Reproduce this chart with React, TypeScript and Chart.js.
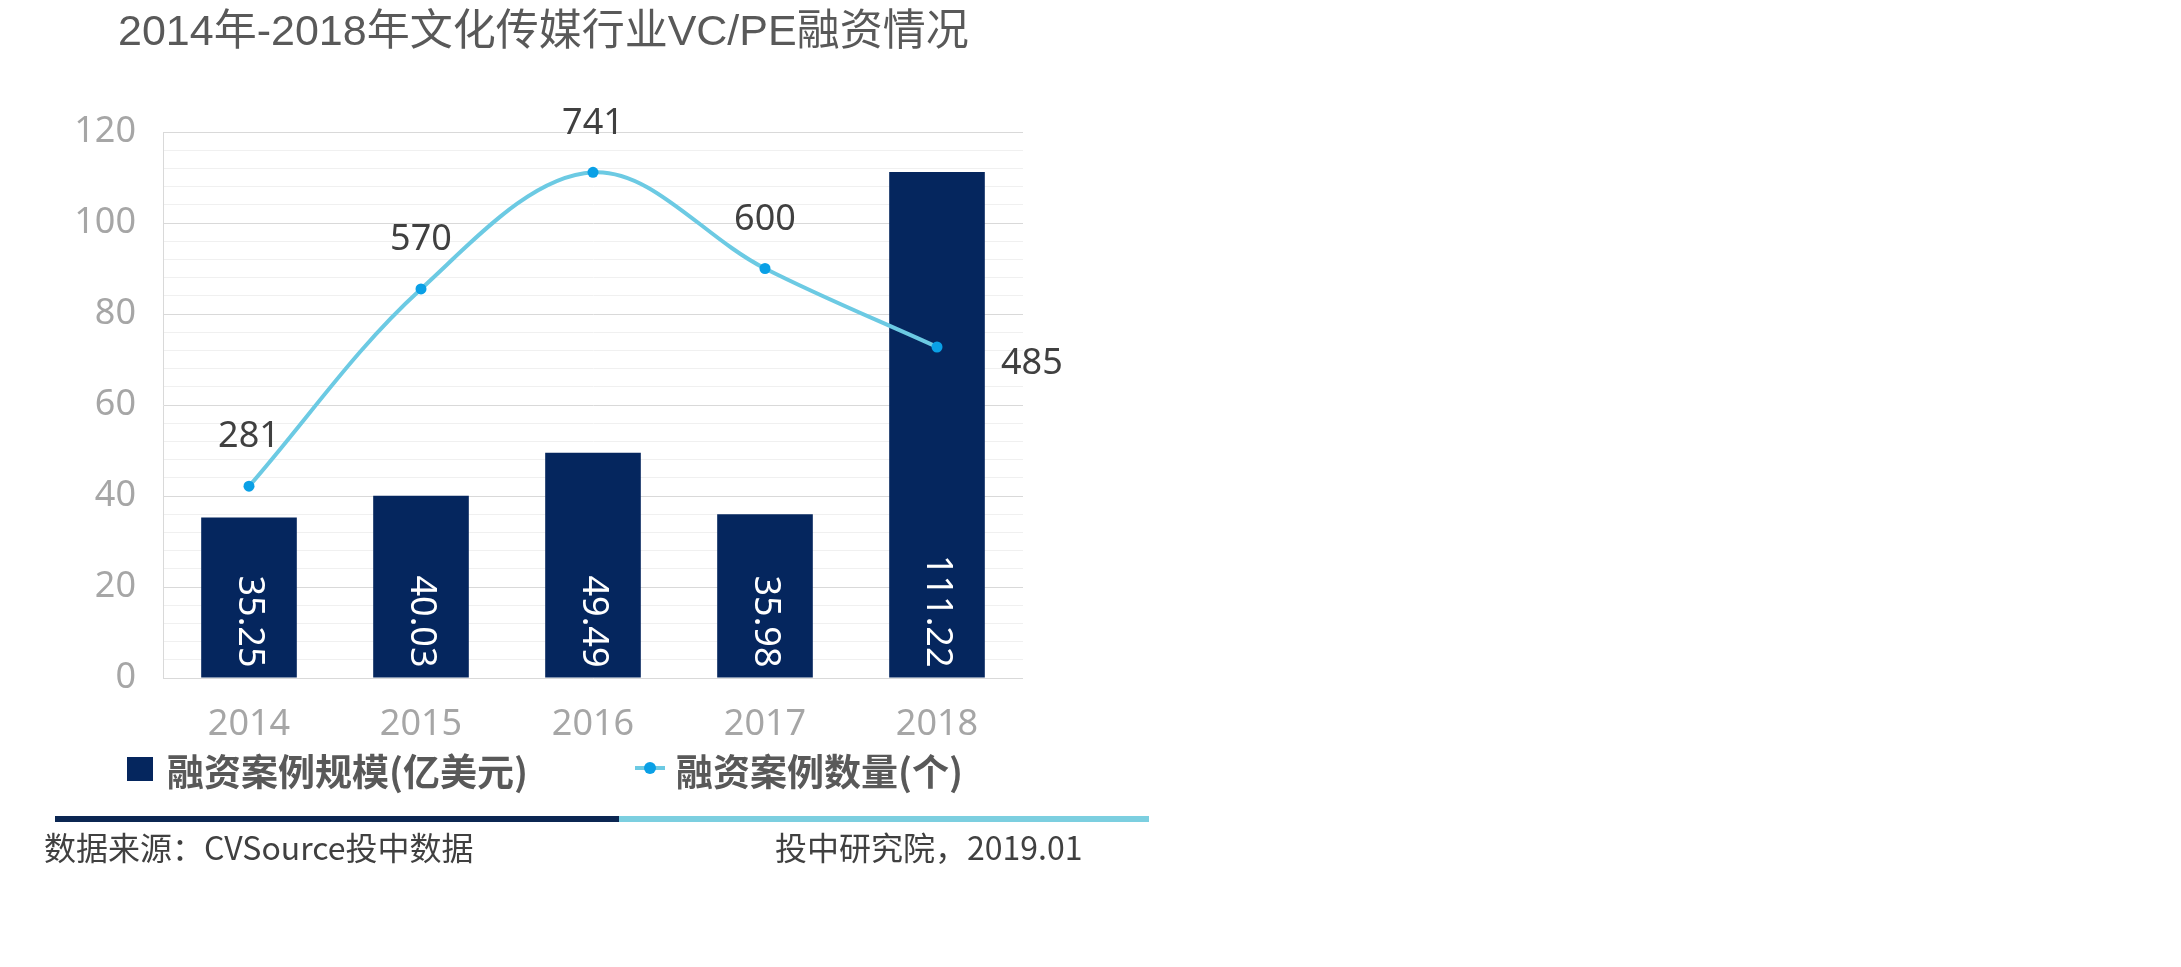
import React, { useEffect, useRef } from 'react';
import { Chart, registerables } from 'chart.js';

Chart.register(...registerables);

const categories = ['2014', '2015', '2016', '2017', '2018'];
const scaleValues = [35.25, 40.03, 49.49, 35.98, 111.22];
const countValues = [281, 570, 741, 600, 485];
const yMax = 120;
const yMajorStep = 20;
const yMinorStep = 4;
const countAxisMax = 800;
const titleText = '2014年-2018年文化传媒行业VC/PE融资情况';
const seriesNames = ['融资案例规模(亿美元)', '融资案例数量(个)'];
const sourceText = '数据来源：CVSource投中数据';
const creditText = '投中研究院，2019.01';

const NAVY = '#05265e';
const LINE_BLUE = '#6ccae3';
const POINT_BLUE = '#0aa0e6';
const CJK = '"Noto Sans CJK SC", "Noto Sans", sans-serif';
const NUM = '"Noto Sans", "Noto Sans CJK SC", sans-serif';

const labelPlugin = {
  id: 'valueLabels',
  afterDatasetsDraw(chart: any) {
    const ctx = chart.ctx;
    ctx.save();
    ctx.font = `36px ${NUM}`;
    const barMeta = chart.getDatasetMeta(0);
    ctx.fillStyle = '#ffffff';
    barMeta.data.forEach((bar: any, i: number) => {
      ctx.save();
      ctx.translate(bar.x, bar.base - 10);
      ctx.rotate(Math.PI / 2);
      ctx.textAlign = 'right';
      ctx.textBaseline = 'middle';
      ctx.fillText(scaleValues[i].toFixed(2), 0, 0);
      ctx.restore();
    });
    const lineMeta = chart.getDatasetMeta(1);
    ctx.fillStyle = '#404040';
    ctx.textBaseline = 'middle';
    lineMeta.data.forEach((pt: any, i: number) => {
      const label = String(countValues[i]);
      if (i === countValues.length - 1) {
        ctx.textAlign = 'left';
        ctx.fillText(label, pt.x + 64, pt.y + 17);
      } else {
        ctx.textAlign = 'center';
        ctx.fillText(label, pt.x, pt.y - 49);
      }
    });
    ctx.restore();
  },
};

export default function App() {
  const canvasRef = useRef<HTMLCanvasElement | null>(null);

  useEffect(() => {
    const canvas = canvasRef.current;
    if (!canvas) return;
    const chart = new Chart(canvas, {
      type: 'bar',
      data: {
        labels: categories,
        datasets: [
          {
            type: 'bar',
            label: seriesNames[0],
            data: scaleValues,
            backgroundColor: NAVY,
            barPercentage: 0.556,
            categoryPercentage: 1,
            yAxisID: 'y',
            order: 1,
          },
          {
            type: 'line',
            label: seriesNames[1],
            data: countValues,
            borderColor: LINE_BLUE,
            borderWidth: 4,
            tension: 0.35,
            pointRadius: 5.5,
            pointBackgroundColor: POINT_BLUE,
            pointBorderWidth: 0,
            yAxisID: 'y1',
            order: 0,
          } as any,
        ],
      },
      options: {
        animation: false,
        responsive: false,
        maintainAspectRatio: false,
        layout: { padding: { left: 0, top: 132, right: 1158, bottom: 229 } },
        plugins: {
          legend: { display: false },
          tooltip: { enabled: false },
          title: { display: false },
        },
        scales: {
          x: {
            grid: { display: false },
            border: { display: false },
            ticks: {
              color: '#a6a6a6',
              font: { family: NUM, size: 36 },
              padding: 17,
            },
            afterFit: (scale: any) => {
              scale.height = 60;
            },
          },
          y: {
            min: 0,
            max: yMax,
            grid: {
              drawTicks: false,
              color: (c: any) =>
                c.tick && c.tick.value % yMajorStep === 0 ? '#d9d9d9' : '#f0f0f0',
              lineWidth: 1,
            },
            border: { display: true, color: '#d9d9d9', width: 1 },
            ticks: {
              stepSize: yMinorStep,
              autoSkip: false,
              color: '#a6a6a6',
              font: { family: NUM, size: 36 },
              padding: 27,
              callback: (v: any) => (Number(v) % yMajorStep === 0 ? String(v) : ''),
            },
            afterFit: (scale: any) => {
              scale.width = 163;
            },
          },
          y1: {
            display: false,
            min: 0,
            max: countAxisMax,
          },
        },
      },
      plugins: [labelPlugin],
    });
    return () => chart.destroy();
  }, []);

  const abs = (s: React.CSSProperties): React.CSSProperties => ({ position: 'absolute', ...s });

  return (
    <div style={abs({ left: 0, top: 0, width: 2181, height: 967, background: '#ffffff', overflow: 'hidden' })}>
      <canvas ref={canvasRef} width={2181} height={967} style={abs({ left: 0, top: 0, width: 2181, height: 967 })} />
      <div
        style={abs({
          left: 118,
          top: 8,
          fontFamily: '"Liberation Sans", "Noto Sans CJK SC", sans-serif',
          fontSize: 43,
          lineHeight: '44px',
          color: '#595959',
          whiteSpace: 'nowrap',
        })}
      >
        {titleText}
      </div>

      {/* legend */}
      <div style={abs({ left: 127, top: 757, width: 26, height: 24, background: NAVY })} />
      <div
        style={abs({
          left: 167,
          top: 748,
          fontFamily: CJK,
          fontWeight: 700,
          fontSize: 37,
          lineHeight: '44px',
          color: '#595959',
          whiteSpace: 'nowrap',
        })}
      >
        {seriesNames[0]}
      </div>
      <div style={abs({ left: 635, top: 766, width: 30, height: 4, background: LINE_BLUE })} />
      <div style={abs({ left: 644, top: 762, width: 12, height: 12, borderRadius: '50%', background: POINT_BLUE })} />
      <div
        style={abs({
          left: 676,
          top: 748,
          fontFamily: CJK,
          fontWeight: 700,
          fontSize: 37,
          lineHeight: '44px',
          color: '#595959',
          whiteSpace: 'nowrap',
        })}
      >
        {seriesNames[1]}
      </div>

      {/* divider */}
      <div style={abs({ left: 55, top: 816, width: 564, height: 6, background: '#0b2652' })} />
      <div style={abs({ left: 619, top: 816, width: 530, height: 6, background: '#7ccfe0' })} />

      {/* footer */}
      <div
        style={abs({
          left: 44,
          top: 827,
          fontFamily: CJK,
          fontSize: 32,
          lineHeight: '38px',
          color: '#404040',
          whiteSpace: 'nowrap',
        })}
      >
        {sourceText}
      </div>
      <div
        style={abs({
          left: 775,
          top: 827,
          fontFamily: CJK,
          fontSize: 32,
          lineHeight: '38px',
          color: '#404040',
          whiteSpace: 'nowrap',
        })}
      >
        {creditText}
      </div>
    </div>
  );
}
